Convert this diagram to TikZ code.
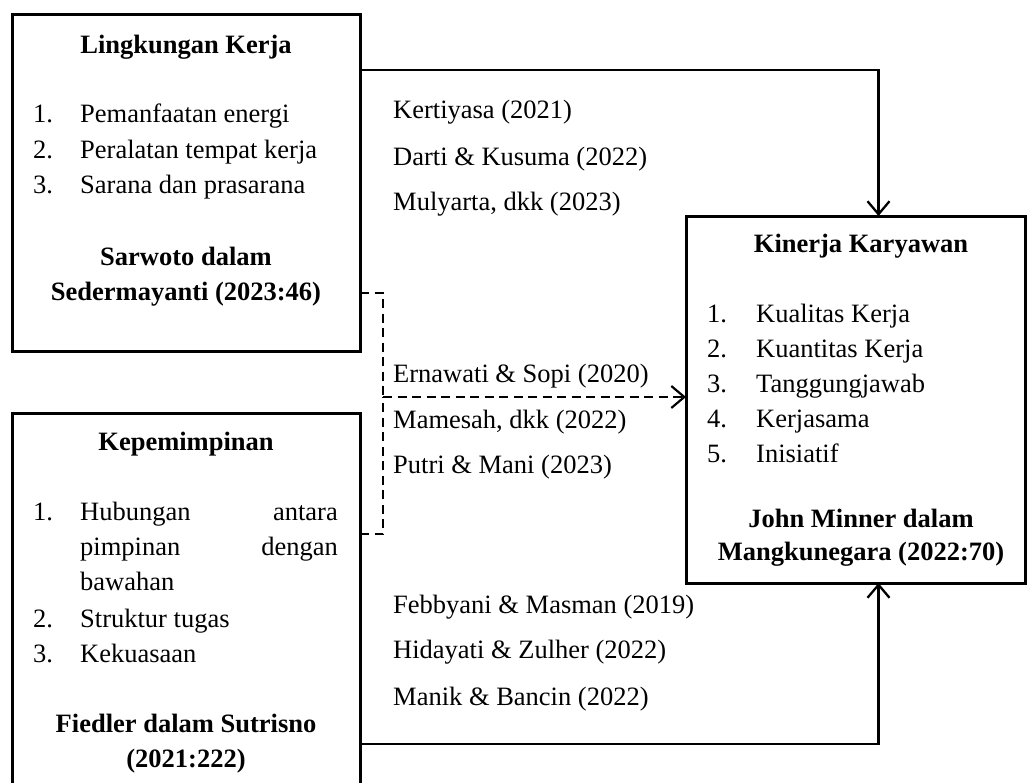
\documentclass[tikz,border=0pt]{standalone}
\usepackage{fontspec}
\setmainfont{Liberation Serif}
\usetikzlibrary{arrows.meta}
\begin{document}
\begin{tikzpicture}[x=1pt,y=-1pt,
  box/.style={draw,line width=3pt,inner sep=0pt,outer sep=0pt},
  conn/.style={line width=2.3pt},
  dconn/.style={line width=2.2pt,dash pattern=on 9pt off 5.5pt},
  tip/.style={-{Straight Barb[length=13pt,width=22pt]}},
  txt/.style={inner sep=0pt,font=\fontsize{26.5}{32}\selectfont},
  lt/.style={txt,anchor=base west},
  rt/.style={txt,anchor=base east},
  ct/.style={txt,anchor=base,font=\fontsize{26.5}{32}\selectfont\bfseries}]
\useasboundingbox (0,0) rectangle (1027,782);
\clip (0,0) rectangle (1027,782);
% boxes
\node[box,minimum width=348pt,minimum height=337pt] (b1) at (186,182.5) {};
\node[box,minimum width=348pt,minimum height=397pt] (b2) at (186,611.5) {};
\node[box,minimum width=339pt,minimum height=367pt] (b3) at (855.5,399.5) {};
% box 1
\node[ct] (t1) at (186,53) {Lingkungan Kerja};
\node[lt] (n11) at (33,122) {1.};
\node[lt] (i11) at (80,122) {Pemanfaatan energi};
\node[lt] (n12) at (33,158) {2.};
\node[lt] (i12) at (80,158) {Peralatan tempat kerja};
\node[lt] (n13) at (33,193) {3.};
\node[lt] (i13) at (80,193) {Sarana dan prasarana};
\node[ct] (s1a) at (186,265) {Sarwoto dalam};
\node[ct] (s1b) at (186,300) {Sedermayanti (2023:46)};
% box 2
\node[ct] (t2) at (186,450) {Kepemimpinan};
\node[lt] (n21) at (33,520) {1.};
\node[lt] (i21a) at (80,520) {Hubungan};
\node[rt] (i21b) at (338,520) {antara};
\node[lt] (i21c) at (80,555) {pimpinan};
\node[rt] (i21d) at (338,555) {dengan};
\node[lt] (i21e) at (80,590) {bawahan};
\node[lt] (n22) at (33,627) {2.};
\node[lt] (i22) at (80,627) {Struktur tugas};
\node[lt] (n23) at (33,662) {3.};
\node[lt] (i23) at (80,662) {Kekuasaan};
\node[ct] (s2a) at (186,732) {Fiedler dalam Sutrisno};
\node[ct] (s2b) at (186,767) {(2021:222)};
% box 3
\node[ct] (t3) at (861,252) {Kinerja Karyawan};
\node[lt] (n31) at (707,322) {1.};
\node[lt] (i31) at (756,322) {Kualitas Kerja};
\node[lt] (n32) at (707,357) {2.};
\node[lt] (i32) at (756,357) {Kuantitas Kerja};
\node[lt] (n33) at (707,392) {3.};
\node[lt] (i33) at (756,392) {Tanggungjawab};
\node[lt] (n34) at (707,427) {4.};
\node[lt] (i34) at (756,427) {Kerjasama};
\node[lt] (n35) at (707,462) {5.};
\node[lt] (i35) at (756,462) {Inisiatif};
\node[ct] (s3a) at (861,527) {John Minner dalam};
\node[ct] (s3b) at (861,560) {Mangkunegara (2022:70)};
% reference labels
\node[lt] (r1) at (393,118) {Kertiyasa (2021)};
\node[lt] (r2) at (393,165) {Darti \& Kusuma (2022)};
\node[lt] (r3) at (393,210) {Mulyarta, dkk (2023)};
\node[lt] (r4) at (393,382) {Ernawati \& Sopi (2020)};
\node[lt] (r5) at (393,428) {Mamesah, dkk (2022)};
\node[lt] (r6) at (393,473) {Putri \& Mani (2023)};
\node[lt] (r7) at (393,613) {Febbyani \& Masman (2019)};
\node[lt] (r8) at (393,658) {Hidayati \& Zulher (2022)};
\node[lt] (r9) at (393,705) {Manik \& Bancin (2022)};
% connectors
\coordinate (j) at (383,397);
\draw[conn,tip] (b1.east |- 0,70) -| ([xshift=23pt]b3.north);
\draw[conn,tip] (b2.east |- 0,744) -| ([xshift=23pt]b3.south);
\draw[dconn] (b1.east |- 0,293) -| (j);
\draw[dconn] (b2.east |- 0,534) -| (j);
\draw[dconn,tip] (j) -- (b3.west |- j);
\end{tikzpicture}
\end{document}
